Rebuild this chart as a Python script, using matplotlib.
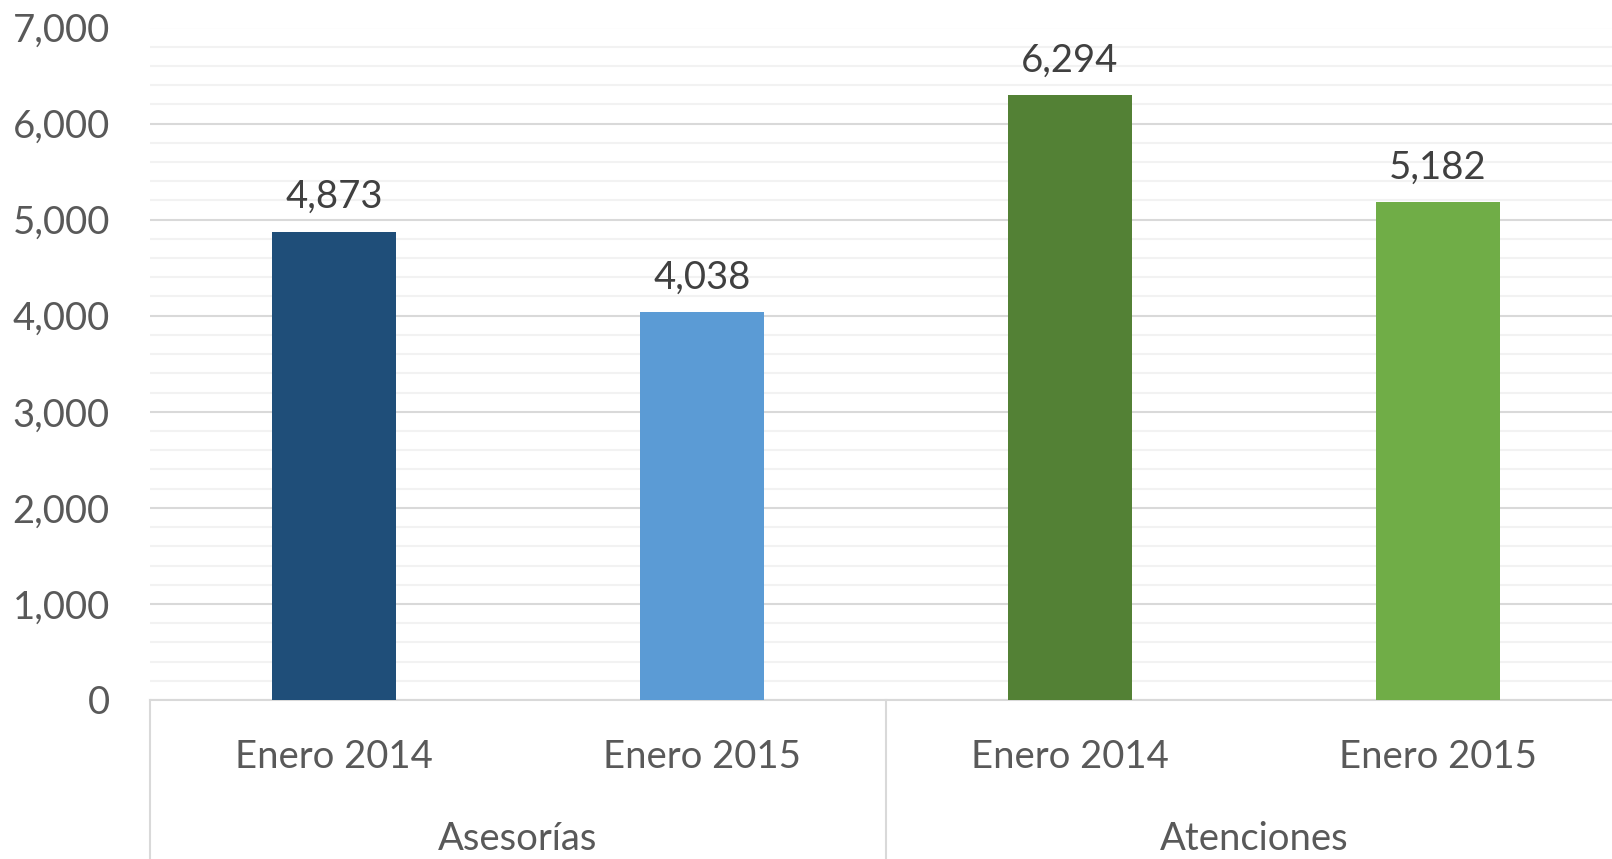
import matplotlib.pyplot as plt
from matplotlib.ticker import FuncFormatter, MultipleLocator

plt.rcParams['font.family'] = ['Lato', 'DejaVu Sans']

groups = ["Asesorías", "Atenciones"]
periods = ["Enero 2014", "Enero 2015", "Enero 2014", "Enero 2015"]
values = [4873, 4038, 6294, 5182]
colors = ["#1F4E79", "#5B9BD5", "#538135", "#70AD47"]

W, H = 1612, 859
fig = plt.figure(figsize=(W / 100, H / 100), dpi=100)
x0, x1 = 150, 1622
y_top, y_zero = 27.5, 700
ax = fig.add_axes([x0 / W, (H - y_zero) / H, (x1 - x0) / W, (y_zero - y_top) / H])

pos = [i + 0.5 for i in range(len(values))]
ax.bar(pos, values, width=0.337, color=colors, zorder=3)
ax.set_xlim(0, len(values))
ax.set_ylim(0, 7000)

for x, v in zip(pos, values):
    ax.annotate(f"{v:,}", (x, v), xytext=(0, 12), textcoords="offset points",
                ha="center", va="bottom", fontsize=27.5, color="#404040")

ax.yaxis.set_major_locator(MultipleLocator(1000))
ax.yaxis.set_minor_locator(MultipleLocator(200))
ax.yaxis.set_major_formatter(FuncFormatter(lambda v, p: f"{int(v):,}"))
ax.grid(axis="y", which="minor", color="#F2F2F2", lw=1.5, zorder=0)
ax.grid(axis="y", which="major", color="#D9D9D9", lw=1.5, zorder=1)
ax.tick_params(axis="y", which="both", length=0, labelsize=27.5, labelcolor="#595959", pad=29)
ax.tick_params(axis="x", length=0)
ax.set_xticks([])

for s in ["top", "right", "left"]:
    ax.spines[s].set_visible(False)
ax.spines["bottom"].set_color("#D9D9D9")
ax.spines["bottom"].set_linewidth(1.5)

# category labels below the axis
for x, lab in zip(pos, periods):
    ax.text(x, -0.085, lab, transform=ax.get_xaxis_transform(), ha="center", va="center",
            fontsize=27.5, color="#595959")
for i, g in enumerate(groups):
    ax.text(2 * i + 1, -0.207, g, transform=ax.get_xaxis_transform(), ha="center", va="center",
            fontsize=27.5, color="#595959")

# group separators
for xs in [0, 2, 4]:
    ax.plot([xs, xs], [0, -0.3], transform=ax.get_xaxis_transform(), color="#D9D9D9",
            lw=1.5, clip_on=False)

fig.savefig("out.png", dpi=100)
